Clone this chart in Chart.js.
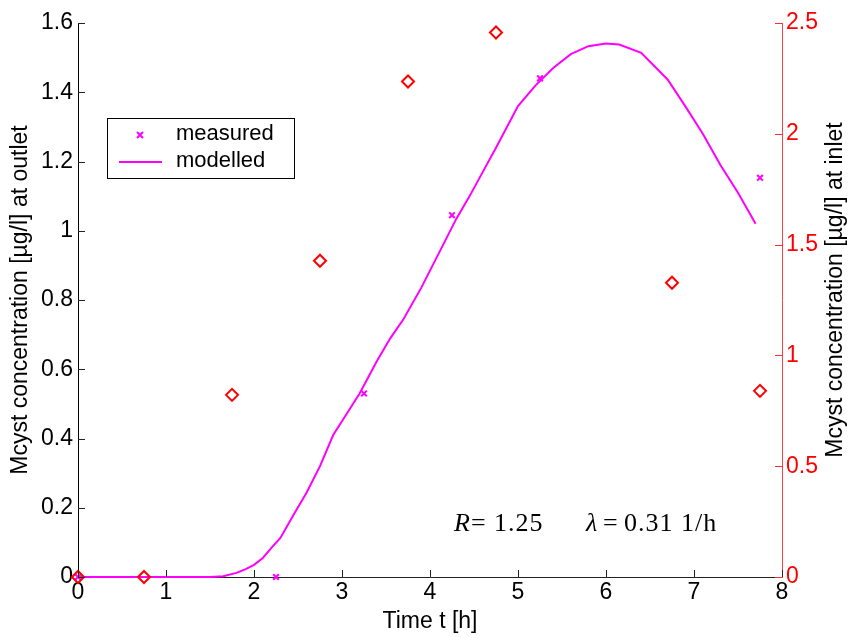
<!DOCTYPE html>
<html><head><meta charset="utf-8">
<script src="https://cdn.jsdelivr.net/npm/chart.js@4.4.0/dist/chart.umd.min.js"></script>
<style>html,body{margin:0;padding:0;background:#fff}#wrap{width:850px;height:637px}</style>
</head><body><div id="wrap"><canvas id="c" width="850" height="637"></canvas></div>
<script>
// ---- data ----
const measuredTime   = [0, 2.25, 3.25, 4.25, 5.25, 7.75];
const measuredOutlet = [0, 0, 0.53, 1.045, 1.44, 1.153];
const inletTime = [0, 0.75, 1.75, 2.75, 3.75, 4.75, 6.75, 7.75];
const inletConc = [0, 0, 0.822, 1.427, 2.236, 2.457, 1.328, 0.84];
const modelTime   = [0, 0.5, 1.0, 1.5, 1.65, 1.8, 1.9, 2.0, 2.1, 2.2, 2.3, 2.45, 2.6, 2.75, 2.9, 3.05, 3.2, 3.4, 3.55, 3.7, 3.9, 4.15, 4.3, 4.45, 4.6, 4.75, 5.0, 5.2, 5.4, 5.6, 5.8, 6.0, 6.15, 6.4, 6.7, 6.9, 7.1, 7.3, 7.5, 7.7];
const modelOutlet = [0, 0, 0, 0, 0.002, 0.012, 0.022, 0.035, 0.055, 0.085, 0.113, 0.18, 0.245, 0.32, 0.41, 0.47, 0.53, 0.625, 0.69, 0.745, 0.835, 0.96, 1.035, 1.1, 1.17, 1.24, 1.36, 1.42, 1.47, 1.51, 1.533, 1.541, 1.538, 1.514, 1.437, 1.36, 1.28, 1.19, 1.11, 1.02];
const legendLabels = ['measured', 'modelled'];
const xTitle = 'Time t [h]';
const yTitle = 'Mcyst concentration [\u00b5g/l] at outlet';
const y2Title = 'Mcyst concentration [\u00b5g/l] at inlet';
const annotationR = '1.25';
const annotationLambda = '0.31 1/h';

const MAG = '#ff00ff', RED = '#ff0000';
const FONT = '"Liberation Sans", Arial, Helvetica, sans-serif';
const SERIF = '"Liberation Serif", "Times New Roman", serif';
const FS = 23;

function pts(xs, ys){ return xs.map((x,i)=>({x:x, y:ys[i]})); }

const inwardTicks = {
  id: 'inwardTicks',
  afterDraw(chart){
    const ctx = chart.ctx, a = chart.chartArea;
    const L = 7;
    ctx.save();
    ctx.lineWidth = 1;
    const sx = chart.scales.x, sy = chart.scales.y, sy2 = chart.scales.y2;
    ctx.strokeStyle = '#222';
    sx.ticks.forEach(t=>{ const p = Math.round(sx.getPixelForValue(t.value))+0.5; ctx.beginPath(); ctx.moveTo(p, a.bottom); ctx.lineTo(p, a.bottom-L); ctx.stroke(); });
    sy.ticks.forEach(t=>{ const p = Math.round(sy.getPixelForValue(t.value))+0.5; ctx.beginPath(); ctx.moveTo(a.left, p); ctx.lineTo(a.left+L, p); ctx.stroke(); });
    ctx.strokeStyle = '#ff3030';
    sy2.ticks.forEach(t=>{ const p = Math.round(sy2.getPixelForValue(t.value))+0.5; ctx.beginPath(); ctx.moveTo(a.right, p); ctx.lineTo(a.right-L, p); ctx.stroke(); });
    // right axis title, read bottom-to-top like the left one
    ctx.save();
    ctx.translate(836, (a.top + a.bottom) / 2 - 10);
    ctx.rotate(-Math.PI / 2);
    ctx.fillStyle = '#000';
    ctx.font = FS + 'px ' + FONT;
    ctx.textAlign = 'center';
    ctx.textBaseline = 'middle';
    ctx.fillText(y2Title, 0, 0);
    ctx.restore();
    ctx.restore();
  }
};

const legendBox = {
  id: 'legendBox',
  afterDraw(chart){
    const ctx = chart.ctx;
    ctx.save();
    ctx.fillStyle = '#fff';
    ctx.fillRect(107, 118, 187, 60);
    ctx.strokeStyle = '#000'; ctx.lineWidth = 1;
    ctx.strokeRect(107.5, 118.5, 187, 60);
    ctx.strokeStyle = MAG; ctx.lineWidth = 2;
    const mx = 140, my = 135, r = 3;
    ctx.beginPath(); ctx.moveTo(mx-r,my-r); ctx.lineTo(mx+r,my+r); ctx.moveTo(mx+r,my-r); ctx.lineTo(mx-r,my+r); ctx.stroke();
    ctx.beginPath(); ctx.moveTo(119, 162); ctx.lineTo(162, 162); ctx.stroke();
    ctx.fillStyle = '#000';
    ctx.font = '22px ' + FONT;
    ctx.textBaseline = 'middle';
    ctx.fillText(legendLabels[0], 176, 134);
    ctx.fillText(legendLabels[1], 176, 161);
    // annotation
    ctx.textBaseline = 'alphabetic';
    const y = 531;
    ctx.font = 'italic 26px ' + SERIF; ctx.fillText('R', 454, y);
    ctx.font = '26px ' + SERIF; ctx.fillText('=', 471, y);
    ctx.letterSpacing = '1px';
    ctx.fillText(annotationR, 494, y);
    ctx.letterSpacing = '0px';
    ctx.font = 'italic 26px ' + SERIF; ctx.fillText('\u03bb', 586, y);
    ctx.font = '26px ' + SERIF; ctx.fillText('=', 603, y);
    ctx.letterSpacing = '1px';
    ctx.fillText(annotationLambda, 624, y);
    ctx.restore();
  }
};

new Chart(document.getElementById('c'), {
  type: 'scatter',
  data: {
    datasets: [
      { label: legendLabels[1], type: 'line', data: pts(modelTime, modelOutlet), yAxisID: 'y',
        borderColor: MAG, borderWidth: 2, pointRadius: 0, fill: false, tension: 0, clip: false, order: 3 },
      { label: legendLabels[0], data: pts(measuredTime, measuredOutlet), yAxisID: 'y',
        pointStyle: 'crossRot', pointRadius: 4, borderColor: MAG, backgroundColor: MAG, pointBorderWidth: 2, clip: false, order: 2 },
      { label: 'inlet', data: pts(inletTime, inletConc), yAxisID: 'y2',
        pointStyle: 'rectRot', pointRadius: 6, borderColor: RED, backgroundColor: 'rgba(0,0,0,0)', pointBorderWidth: 2, clip: false, order: 1 }
    ]
  },
  options: {
    responsive: false, animation: false, devicePixelRatio: 1,
    layout: { padding: { top: 23, left: 0, right: 0, bottom: 0 } },
    plugins: { legend: { display: false }, tooltip: { enabled: false } },
    scales: {
      x: { type: 'linear', min: 0, max: 8,
        ticks: { stepSize: 1, color: '#000', font: { family: FONT, size: FS }, padding: 2, maxRotation: 0 },
        grid: { display: false, drawTicks: false },
        border: { display: true, color: '#222', width: 1 },
        title: { display: true, text: xTitle, color: '#000', font: { family: FONT, size: FS }, padding: { top: 0, bottom: 2 } },
        afterFit(s){ s.height = 60; } },
      y: { type: 'linear', position: 'left', min: 0, max: 1.6,
        ticks: { stepSize: 0.2, color: '#000', font: { family: FONT, size: FS }, padding: 5,
          callback: v => (Math.round(v*10)/10).toString() },
        grid: { display: false, drawTicks: false },
        border: { display: true, color: '#000', width: 1 },
        title: { display: true, text: yTitle, color: '#000', font: { family: FONT, size: FS }, padding: { top: 7, bottom: 0 } },
        afterFit(s){ s.width = 78; } },
      y2: { type: 'linear', position: 'right', min: 0, max: 2.5,
        ticks: { stepSize: 0.5, color: RED, font: { family: FONT, size: FS }, padding: 4,
          callback: v => (Math.round(v*10)/10).toString() },
        grid: { display: false, drawTicks: false },
        border: { display: true, color: '#ff4040', width: 1 },
        title: { display: false },
        afterFit(s){ s.width = 68; } }
    }
  },
  plugins: [inwardTicks, legendBox]
});
</script>
</body></html>
